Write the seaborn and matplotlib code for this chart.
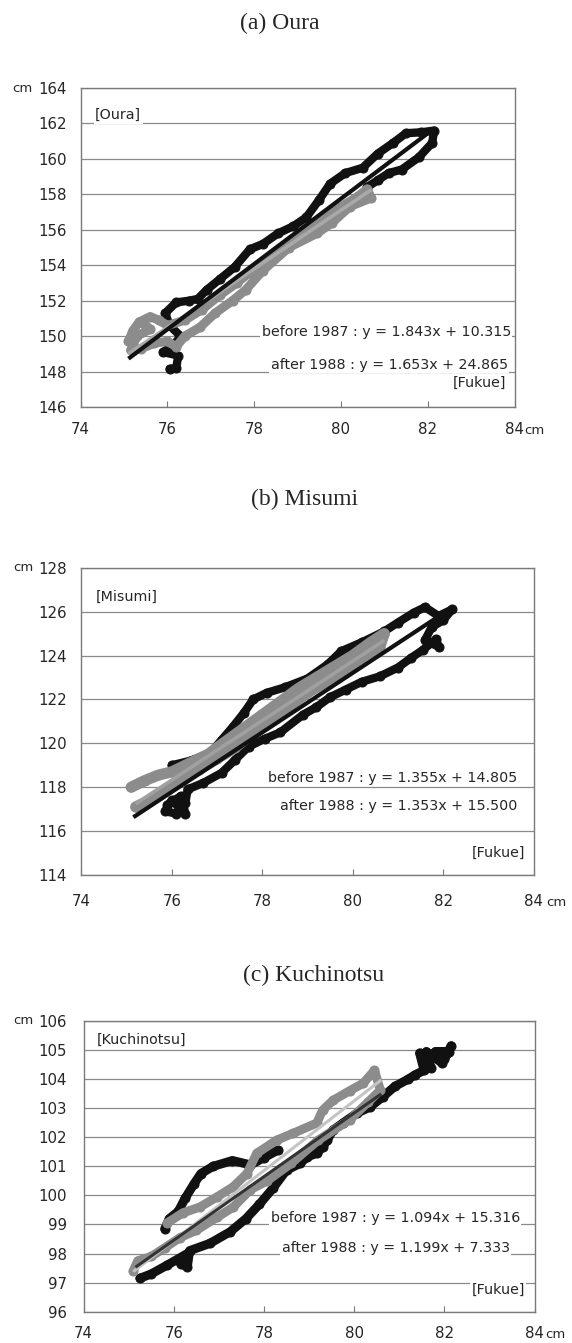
import numpy as np
import pandas as pd
import matplotlib
matplotlib.use("Agg")
import matplotlib.pyplot as plt
import seaborn as sns

# ---------------- data ----------------
x_ticks = [74, 76, 78, 80, 82, 84]
x_tick_labels = ["74", "76", "78", "80", "82", "84"]

# (a) Oura
oura_yticks = [146, 148, 150, 152, 154, 156, 158, 160, 162, 164]
oura_before_x = [76.05, 76.2, 76.25, 75.9, 76.15, 76.3, 76.05, 75.95, 76.2, 76.5, 76.7, 76.9, 77.2, 77.55,
                 77.9, 78.2, 78.55, 78.9, 79.2, 79.5, 79.75, 80.1, 80.5, 80.85, 81.2, 81.5, 81.85,
                 82.15, 82.1, 81.8, 81.4, 81.1, 80.85, 80.6]
oura_before_y = [148.15, 148.2, 148.9, 149.1, 149.5, 150.0, 150.6, 151.3, 151.9, 152.0, 152.1, 152.6,
                 153.2, 153.9, 154.9, 155.2, 155.8, 156.2, 156.7, 157.7, 158.6, 159.2, 159.5, 160.3,
                 160.9, 161.45, 161.5, 161.6, 160.9, 160.1, 159.4, 159.2, 158.8, 158.4]
oura_after_x = [75.1, 75.2, 75.35, 75.6, 75.8, 76.0, 76.4, 76.8, 77.2, 77.6, 78.0, 78.4, 78.8, 79.2,
                79.6, 80.0, 80.4, 80.6, 80.7, 80.2, 79.8, 79.45, 78.8, 78.2, 77.8, 77.5, 77.1, 76.75,
                76.4, 76.2, 76.0, 75.7, 75.4, 75.15, 75.3, 75.6, 75.45]
oura_after_y = [149.7, 150.3, 150.8, 151.1, 150.9, 150.6, 150.9, 151.5, 152.3, 153.0, 153.8, 154.5,
                155.3, 155.9, 156.7, 157.3, 157.9, 158.3, 157.8, 157.3, 156.4, 155.8, 155.0, 153.7,
                152.6, 152.0, 151.3, 150.5, 150.0, 149.4, 149.7, 149.6, 149.3, 149.2, 150.0, 150.4,
                150.7]
oura_fit_before = (1.843, 10.315)
oura_fit_after = (1.653, 24.865)
oura_fit_before_x = [75.1, 82.15]
oura_fit_after_x = [75.1, 80.7]

# (b) Misumi
misumi_yticks = [114, 116, 118, 120, 122, 124, 126, 128]
misumi_before_x = [76.0, 76.4, 76.85, 77.1, 77.35, 77.6, 77.8, 78.1, 78.5, 79.0, 79.45, 79.75, 80.2,
                   80.7, 81.0, 81.35, 81.6, 81.9, 82.2, 82.0, 81.75, 81.6, 81.9, 81.85, 81.55, 81.3,
                   81.0, 80.6, 80.2, 79.85, 79.5, 79.2, 78.9, 78.4, 78.05, 77.7, 77.4, 77.1, 76.7,
                   76.35, 76.3, 76.1, 75.85, 76.0, 76.3, 76.2, 75.9]
misumi_before_y = [119.0, 119.2, 119.55, 120.15, 120.75, 121.4, 122.0, 122.3, 122.55, 122.95, 123.6,
                   124.2, 124.6, 125.1, 125.5, 125.95, 126.2, 125.8, 126.1, 125.6, 125.3, 124.7,
                   124.4, 124.75, 124.25, 123.9, 123.45, 123.05, 122.8, 122.45, 122.1, 121.65, 121.3,
                   120.5, 120.2, 119.85, 119.25, 118.65, 118.2, 117.9, 117.3, 116.8, 116.9, 117.4,
                   116.8, 117.6, 117.2]
misumi_after_x = [75.1, 75.4, 75.7, 76.0, 76.4, 76.8, 77.2, 77.6, 78.0, 78.4, 78.8, 79.2, 79.6, 80.0,
                  80.4, 80.7, 80.6, 80.2, 79.8, 79.4, 79.0, 78.6, 78.2, 77.8, 77.4, 77.0, 76.6, 76.2,
                  75.8, 75.5, 75.2]
misumi_after_y = [118.0, 118.3, 118.55, 118.7, 119.1, 119.5, 120.1, 120.7, 121.3, 121.9, 122.5, 123.0,
                  123.5, 124.0, 124.6, 125.0, 124.4, 123.9, 123.3, 122.8, 122.3, 121.7, 121.1, 120.5,
                  119.8, 119.3, 118.8, 118.3, 117.8, 117.4, 117.1]
misumi_fit_before = (1.355, 14.805)
misumi_fit_after = (1.353, 15.500)
misumi_fit_before_x = [75.15, 82.15]
misumi_fit_after_x = [75.2, 80.7]

# (c) Kuchinotsu
kuchi_yticks = [96, 97, 98, 99, 100, 101, 102, 103, 104, 105, 106]
kuchi_before_lower_x = [82.15, 82.0, 82.1, 81.8, 81.95, 81.6, 81.7, 81.45, 81.55, 81.35, 81.2, 80.9,
                        80.64, 80.35, 80.06, 79.76, 79.53, 79.4, 79.3, 79.17, 78.95, 78.8, 78.5, 78.2,
                        77.9, 77.6, 77.25, 76.8, 76.35, 76.3, 76.15, 76.3, 75.85, 75.5, 75.25]
kuchi_before_lower_y = [105.15, 104.7, 104.95, 104.95, 104.55, 104.95, 104.4, 104.9, 104.3, 104.15,
                        104.0, 103.75, 103.4, 103.04, 102.83, 102.5, 102.25, 101.9, 101.67, 101.45,
                        101.32, 101.1, 100.87, 100.25, 99.7, 99.2, 98.75, 98.35, 98.1, 97.55, 97.65,
                        98.0, 97.6, 97.3, 97.15]
kuchi_before_upper_x = [75.8, 75.9, 76.1, 76.25, 76.45, 76.6, 76.87, 77.3, 77.7, 78.0, 78.3]
kuchi_before_upper_y = [98.85, 99.2, 99.45, 99.9, 100.4, 100.75, 101.0, 101.2, 101.05, 101.3, 101.55]
kuchi_after_x = [75.1, 75.2, 75.5, 75.8, 76.14, 76.5, 76.96, 77.32, 77.7, 78.07, 78.6, 79.2, 79.9,
                 80.3, 80.58, 80.45, 80.2, 79.9, 79.53, 79.3, 79.17, 78.65, 78.28, 77.84, 77.62,
                 77.32, 76.96, 76.58, 76.2, 75.85]
kuchi_after_y = [97.4, 97.75, 97.9, 98.2, 98.55, 98.8, 99.25, 99.6, 100.2, 100.5, 101.1, 101.9, 102.6,
                 103.2, 103.62, 104.3, 103.86, 103.6, 103.27, 102.93, 102.49, 102.14, 101.9, 101.45,
                 100.75, 100.3, 99.95, 99.6, 99.4, 99.05]
kuchi_fit_before = (1.094, 15.316)
kuchi_fit_after = (1.199, 7.333)
kuchi_fit_before_x = [75.15, 80.6]
kuchi_fit_after_x = [75.1, 80.6]

# ---------------- style ----------------
sns.set_style("white")
plt.rcParams["font.family"] = ["DejaVu Sans"]

BLACK = "#111111"
GRAY = "#8c8c8c"
GRID = "#8a8a8a"
FRAME = "#7a7a7a"
TICKFS = 10.8
ANNFS = 10.3

fig = plt.figure(figsize=(5.72, 13.43), dpi=100)
W, H = 572.0, 1343.0


def make_axes(left, right, top, bottom):
    return fig.add_axes([left / W, 1 - bottom / H, (right - left) / W, (bottom - top) / H])


def path(ax, xs, ys, color, lw=6.0, ms=6.5):
    df = pd.DataFrame({"x": xs, "y": ys})
    sns.lineplot(data=df, x="x", y="y", sort=False, estimator=None, ax=ax, color=color,
                 linewidth=lw, marker="o", markersize=ms, markeredgecolor=color,
                 solid_capstyle="round", solid_joinstyle="round", zorder=3)


def fit_line(ax, xr, coef, color, lw, z):
    a, b = coef
    xs = np.array(xr)
    sns.lineplot(x=xs, y=a * xs + b, ax=ax, color=color, linewidth=lw, zorder=z,
                 solid_capstyle="butt")


def style_axes(ax, yticks, xpad, ypad, cm_y_off, cm_x_off, cm_x_gap, cm_text):
    ax.set_xlim(74, 84)
    ax.set_ylim(yticks[0], yticks[-1])
    ax.set_xticks(x_ticks)
    ax.set_xticklabels(x_tick_labels)
    ax.set_yticks(yticks)
    ax.set_yticklabels([str(v) for v in yticks])
    ax.set_xlabel("")
    ax.set_ylabel("")
    ax.set_axisbelow(True)
    ax.yaxis.grid(True, color=GRID, linewidth=0.9)
    ax.xaxis.grid(False)
    for sp in ax.spines.values():
        sp.set_visible(True)
        sp.set_color(FRAME)
        sp.set_linewidth(1.0)
    ax.tick_params(axis="x", direction="in", length=4, width=0.8, color=FRAME,
                   labelsize=TICKFS, pad=xpad, bottom=True, top=False)
    ax.tick_params(axis="y", length=0, labelsize=TICKFS, pad=ypad, left=True)
    ax.annotate("cm", xy=(0, 1), xycoords="axes fraction", xytext=(cm_y_off, 0),
                textcoords="offset pixels", ha="right", va="center", fontsize=9.5)
    ax.annotate(cm_text, xy=(1, 0), xycoords="axes fraction", xytext=(cm_x_gap, cm_x_off),
                textcoords="offset pixels", ha="left", va="center", fontsize=9.5)


def ann(ax, txt, fx, fy, ha="right"):
    ax.text(fx, fy, txt, transform=ax.transAxes, ha=ha, va="center", fontsize=ANNFS,
            zorder=6, bbox=dict(facecolor="white", edgecolor="none", pad=1.0))


# ---------------- (a) Oura ----------------
axa = make_axes(80.7, 514.5, 88, 407)
path(axa, oura_before_x, oura_before_y, BLACK)
path(axa, oura_after_x, oura_after_y, GRAY, lw=6.5)
fit_line(axa, oura_fit_after_x, oura_fit_after, "#a9a9a9", 2.6, 4)
fit_line(axa, oura_fit_before_x, oura_fit_before, BLACK, 3.0, 5)
style_axes(axa, oura_yticks, 10.5, 10.0, -48, -23, 10, "cm")
ann(axa, "[Oura]", 0.033, 0.915, ha="left")
ann(axa, "before 1987 : y = 1.843x + 10.315", 0.992, 0.235)
ann(axa, "after 1988 : y = 1.653x + 24.865", 0.985, 0.132)
ann(axa, "[Fukue]", 0.980, 0.075)
fig.text(280 / W, 1 - 23 / H, "(a) Oura", ha="center", va="center",
         fontsize=17, family="Liberation Serif")

# ---------------- (b) Misumi ----------------
axb = make_axes(81.4, 533.5, 567.7, 875)
path(axb, misumi_before_x, misumi_before_y, BLACK)
path(axb, misumi_after_x, misumi_after_y, GRAY, lw=8.0)
fit_line(axb, misumi_fit_after_x, misumi_fit_after, "#a0a0a0", 2.6, 4)
fit_line(axb, misumi_fit_before_x, misumi_fit_before, BLACK, 3.0, 5)
style_axes(axb, misumi_yticks, 14.0, 10.4, -48, -28, 13, "cm")
ann(axb, "[Misumi]", 0.032, 0.905, ha="left")
ann(axb, "before 1987 : y = 1.355x + 14.805", 0.9635, 0.316)
ann(axb, "after 1988 : y = 1.353x + 15.500", 0.9635, 0.2245)
ann(axb, "[Fukue]", 0.981, 0.0716)
fig.text(305 / W, 1 - 499 / H, "(b) Misumi", ha="center", va="center",
         fontsize=17, family="Liberation Serif")

# ---------------- (c) Kuchinotsu ----------------
axc = make_axes(83.6, 534.6, 1021, 1311.7)
path(axc, kuchi_before_lower_x, kuchi_before_lower_y, BLACK, lw=6.5)
path(axc, kuchi_before_upper_x, kuchi_before_upper_y, BLACK, lw=6.5)
path(axc, kuchi_after_x, kuchi_after_y, GRAY, lw=6.5)
fit_line(axc, kuchi_fit_after_x, kuchi_fit_after, "#c4c4c4", 2.2, 4)
fit_line(axc, kuchi_fit_before_x, kuchi_fit_before, "#333333", 2.2, 5)
style_axes(axc, kuchi_yticks, 10.5, 12.0, -50, -23, 11, "cm")
ann(axc, "[Kuchinotsu]", 0.0297, 0.935, ha="left")
ann(axc, "before 1987 : y = 1.094x + 15.316", 0.9676, 0.322)
ann(axc, "after 1988 : y = 1.199x + 7.333", 0.9455, 0.219)
ann(axc, "[Fukue]", 0.9787, 0.0746)
fig.text(313.5 / W, 1 - 975 / H, "(c) Kuchinotsu", ha="center", va="center",
         fontsize=17, family="Liberation Serif")

fig.savefig("out.png", dpi=100, facecolor="white")
